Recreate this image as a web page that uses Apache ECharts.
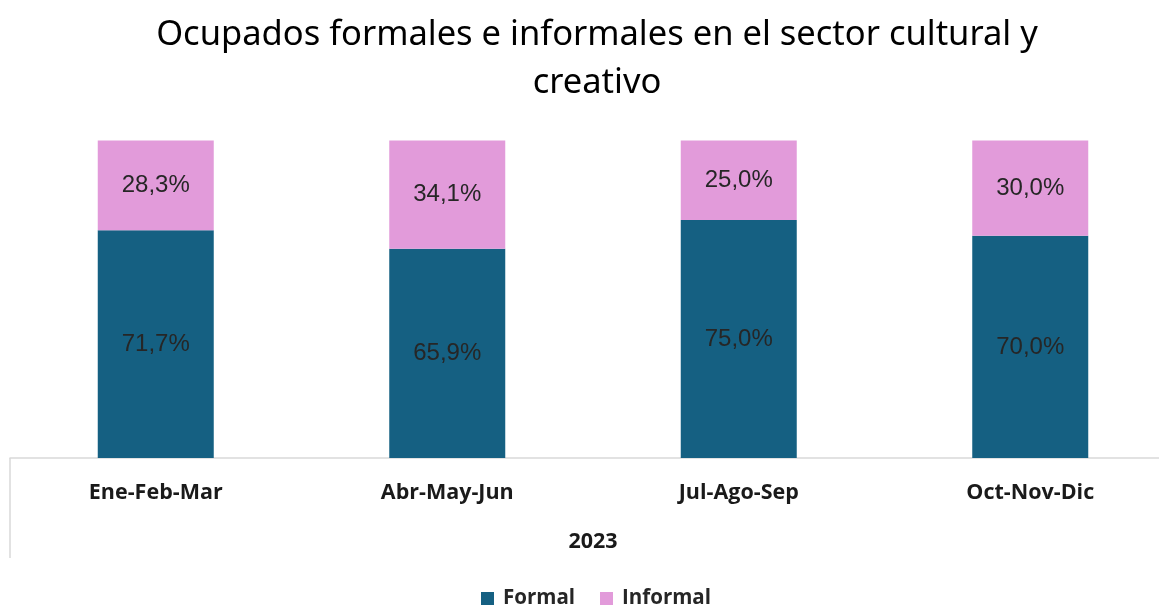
<!DOCTYPE html>
<html>
<head>
<meta charset="utf-8">
<script src="https://cdn.jsdelivr.net/npm/echarts@6/dist/echarts.min.js"></script>
<style>
    html, body { margin: 0; padding: 0; background: #fff; }
    #chart { width: 1159px; height: 607px; }
</style>
</head>
<body>
<div id="chart"></div>
<script>
// datos
const categories = ['Ene-Feb-Mar', 'Abr-May-Jun', 'Jul-Ago-Sep', 'Oct-Nov-Dic'];
const yearLabel = ['2023'];
const formal = [71.7, 65.9, 75.0, 70.0];
const informal = [28.3, 34.1, 25.0, 30.0];

const pct = p => p.value.toFixed(1).replace('.', ',') + '%';

const chart = echarts.init(document.getElementById('chart'));

chart.setOption({
    animation: false,
    title: {
        text: 'Ocupados formales e informales en el sector cultural y\ncreativo',
        left: 592,
        textAlign: 'center',
        top: 6,
        textStyle: {
            fontFamily: 'Noto Sans',
            fontWeight: 'normal',
            fontSize: 34.5,
            lineHeight: 48,
            color: '#000'
        }
    },
    legend: {
        top: 583,
        left: 476,
        icon: 'rect',
        itemWidth: 13,
        itemHeight: 13,
        itemGap: 25,
        textStyle: {
            fontFamily: 'Open Sans',
            fontWeight: 'bold',
            fontSize: 20.5,
            padding: [0, 0, 0, 4],
            color: '#262626'
        },
        data: ['Formal', 'Informal']
    },
    grid: {
        top: 140.5,
        left: 10,
        width: 1166,
        height: 317.5,
        outerBoundsMode: 'none'
    },
    xAxis: [
        {
            type: 'category',
            data: categories,
            axisLine: { lineStyle: { color: '#d9d9d9', width: 1.5 } },
            axisTick: { show: false },
            axisLabel: {
                margin: 24,
                fontFamily: 'Open Sans',
                fontWeight: 'bold',
                fontSize: 21.5,
                color: '#1a1a1a'
            }
        },
        {
            type: 'category',
            position: 'bottom',
            data: yearLabel,
            axisLine: { show: false },
            axisTick: { show: true, length: 100, lineStyle: { color: '#d9d9d9', width: 1.5 } },
            axisLabel: {
                margin: 73,
                fontFamily: 'Open Sans',
                fontWeight: 'bold',
                fontSize: 21.5,
                color: '#1a1a1a'
            }
        }
    ],
    yAxis: {
        type: 'value',
        min: 0,
        max: 100,
        show: false
    },
    series: [
        {
            name: 'Formal',
            type: 'bar',
            stack: 'total',
            barWidth: 116,
            data: formal,
            itemStyle: { color: '#156082' },
            label: {
                show: true,
                position: 'inside',
                formatter: pct,
                fontFamily: 'Liberation Sans',
                fontSize: 24,
                color: '#262626'
            }
        },
        {
            name: 'Informal',
            type: 'bar',
            stack: 'total',
            barWidth: 116,
            data: informal,
            itemStyle: { color: '#e29bda' },
            label: {
                show: true,
                position: 'inside',
                formatter: pct,
                fontFamily: 'Liberation Sans',
                fontSize: 24,
                color: '#262626'
            }
        }
    ]
});
</script>
</body>
</html>
